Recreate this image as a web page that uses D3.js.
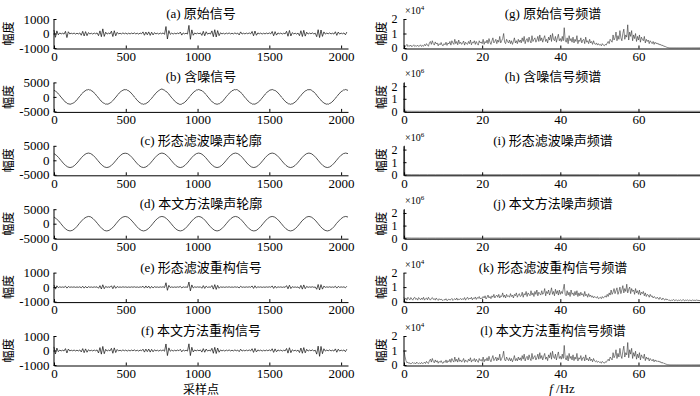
<!DOCTYPE html>
<html>
<head>
<meta charset="utf-8">
<script src="https://cdn.jsdelivr.net/npm/d3@7/dist/d3.min.js"></script>
<style>
  body { margin: 0; background: #fff; }
</style>
</head>
<body>
<svg id="chart" width="700" height="396"></svg>
<script>
// time signals (a), (e), (f): one value every 10 samples
const sigStep = 10;
const sigA = [
  240,-260,180,-90,40,-30,20,-40,150,-280,
  120,-30,20,-20,30,-40,20,-30,40,-120,
  150,-170,130,-150,60,-30,20,-40,30,-20,
  40,-150,180,-220,320,-200,90,-40,30,-30,
  160,-210,190,-160,80,-30,20,-30,40,-20,
  30,-40,20,-30,30,-20,40,-30,20,-40,
  30,-20,110,-120,100,-90,110,-130,90,-100,
  60,-30,20,-40,30,-20,40,-60,480,-380,
  200,-60,30,-40,20,-30,30,-20,100,-110,
  40,-30,20,-40,560,-400,250,-120,40,-30,
  30,-20,40,-130,150,-160,120,-50,30,-40,
  180,-220,260,-240,200,-150,50,-30,20,-40,
  30,-20,40,-30,20,-30,40,-20,30,-100,
  110,-40,20,-30,30,-20,40,-30,140,-160,
  170,-120,40,-20,30,-40,20,-30,30,-20,
  40,-30,140,-160,130,-110,40,-20,30,-40,
  20,-30,150,-190,210,-170,60,-30,20,-40,
  30,-150,190,-210,220,-180,90,-40,30,-20,
  40,-30,20,-220,260,-280,240,-200,110,-40,
  30,-20,40,-30,20,-40,120,-130,100,-40,
  30,-20,40,-90,100
];
const sigE = [
  150,-140,90,-40,20,-15,10,-20,60,-70,
  40,-15,10,-10,15,-20,10,-15,20,-50,
  60,-70,50,-60,30,-15,10,-20,15,-10,
  20,-80,100,-130,160,-110,50,-20,15,-15,
  90,-110,100,-80,40,-15,10,-15,20,-10,
  15,-20,10,-15,15,-10,20,-15,10,-20,
  15,-10,60,-70,80,-60,70,-80,50,-60,
  30,-15,10,-20,15,-10,20,-30,300,-220,
  120,-30,15,-20,10,-15,15,-10,50,-60,
  20,-15,10,-20,350,-260,150,-60,20,-15,
  15,-10,20,-80,100,-90,70,-25,15,-20,
  110,-140,170,-160,120,-80,25,-15,10,-20,
  15,-10,20,-15,10,-15,20,-10,15,-60,
  60,-20,10,-15,15,-10,20,-15,80,-90,
  90,-60,20,-10,15,-20,10,-15,15,-10,
  20,-15,80,-90,70,-60,20,-10,15,-20,
  10,-15,100,-120,130,-100,30,-15,10,-20,
  15,-90,120,-140,150,-110,50,-20,15,-10,
  20,-15,10,-150,180,-200,170,-140,70,-20,
  15,-10,20,-15,10,-20,60,-70,50,-20,
  15,-10,20,-50,60
];
const sigF = [
  250,-240,170,-80,30,-30,20,-30,130,-170,
  100,-30,20,-20,30,-30,20,-30,40,-100,
  130,-150,110,-120,50,-30,20,-30,30,-20,
  40,-170,200,-250,280,-220,80,-40,30,-30,
  150,-190,180,-140,70,-30,20,-30,40,-20,
  30,-40,20,-30,30,-20,40,-30,20,-40,
  30,-20,90,-110,100,-80,100,-110,80,-90,
  50,-30,20,-40,30,-20,40,-50,450,-350,
  180,-50,30,-40,20,-30,30,-20,80,-90,
  40,-30,20,-40,460,-350,220,-100,40,-30,
  30,-20,40,-110,130,-120,100,-40,30,-40,
  150,-190,220,-210,170,-120,40,-30,20,-40,
  30,-20,40,-30,20,-30,40,-20,30,-80,
  90,-40,20,-30,30,-20,40,-30,120,-130,
  140,-100,40,-20,30,-40,20,-30,30,-20,
  40,-30,120,-130,110,-90,40,-20,30,-40,
  20,-30,140,-180,190,-150,50,-30,20,-40,
  30,-140,170,-190,200,-160,80,-40,30,-20,
  40,-30,20,-250,300,-400,280,-220,120,-40,
  30,-20,40,-30,20,-40,110,-120,90,-40,
  30,-20,40,-80,90
];

// noisy signal (b): one value every 8 samples
const noisyStep = 8;
const sigB = [
  2200,2150,1700,1450,900,550,-80,-420,-1000,-1300,-1850,-2000,-2400,-2380,-2550,-2400,-2250,-2150,-1700,-1450,-900,-560,60,420,1020,1330,1830,2000,2380,2400,2560,2380,
  2360,2010,1830,1320,1010,420,70,-550,-900,-1450,-1700,-2150,-2250,-2520,-2440,-2530,-2250,-2140,-1700,-1330,-1020,-420,-60,550,900,1450,1700,2150,2250,2520,2450,2520,
  2250,2140,1700,1450,900,540,-60,-430,-1010,-1330,-1820,-2020,-2370,-2400,-2560,-2390,-2360,-2010,-1830,-1320,-900,-550,70,420,1010,1330,1830,2020,2450,2600,2750,2500,
  2380,2000,1830,1330,1010,430,-70,-540,-900,-1450,-1700,-2150,-2250,-2520,-2580,-2520,-2250,-2150,-1700,-1450,-900,-550,60,430,1010,1320,1830,2010,2370,2400,2560,2390,
  2250,2140,1710,1450,900,540,-60,-420,-1020,-1330,-1820,-2010,-2370,-2400,-2560,-2390,-2360,-2020,-1830,-1320,-1010,-430,70,540,900,1450,1700,2150,2250,2520,2440,2520,
  2370,2010,1830,1330,1010,430,-70,-550,-900,-1450,-1700,-2150,-2250,-2520,-2440,-2520,-2250,-2140,-1700,-1450,-900,-550,60,430,1010,1330,1830,2010,2370,2400,2560,2390,
  2250,2140,1710,1450,900,540,-60,-420,-1010,-1330,-1830,-2020,-2370,-2400,-2560,-2390,-2360,-2010,-1830,-1330,-1010,-430,70,540,900,1450,1700,2150,2250,2520,2450,2520,
  2370,2010,1830,1330,1010,430,-60,-540,-900,-1450,-1700,-2150,-2250,-2520,-2440,-2520,-2250,-2140,-1700,-1450,-900,-550,60,430,1010,1330,1830,2010,2370,2400,2560,2390,
  2250
];

// noise profiles (c), (d): one value every 16 samples
const waveStep = 16;
const sigC = [
  2300,1750,950,0,-950,-1750,-2300,-2500,-2300,-1750,-950,0,950,1750,2300,2500,
  2300,1750,950,0,-950,-1750,-2300,-2500,-2300,-1750,-950,0,950,1750,2300,2450,
  2300,1750,950,0,-950,-1750,-2300,-2500,-2300,-1750,-950,0,950,1750,2300,2500,
  2300,1750,950,0,-950,-1750,-2300,-2500,-2300,-1750,-950,0,950,1750,2300,2500,
  2300,1750,950,0,-950,-1750,-2300,-2500,-2300,-1750,-950,0,950,1750,2300,2500,
  2300,1750,950,0,-950,-1750,-2300,-2500,-2300,-1750,-950,0,950,1750,2300,2500,
  2300,1750,950,0,-950,-1750,-2300,-2500,-2300,-1750,-950,0,950,1750,2300,2500,
  2300,1750,950,0,-950,-1750,-2300,-2500,-2300,-1750,-950,0,950,1750,2300,2500,
  2300
];
const sigD = [
  2300,1700,1000,0,-950,-1800,-2300,-2500,-2300,-1750,-950,50,950,1750,2250,2500,
  2350,1750,950,0,-950,-1750,-2350,-2500,-2300,-1700,-1000,0,950,1800,2300,2500,
  2300,1750,900,0,-950,-1750,-2300,-2500,-2300,-1750,-950,0,1000,1750,2300,2500,
  2300,1750,950,0,-950,-1800,-2300,-2500,-2300,-1750,-950,0,950,1750,2300,2500,
  2300,1750,950,-50,-950,-1750,-2300,-2500,-2300,-1750,-950,0,950,1750,2300,2500,
  2300,1750,950,0,-950,-1750,-2300,-2500,-2350,-1750,-950,0,950,1750,2300,2500,
  2300,1750,950,0,-950,-1750,-2300,-2500,-2300,-1750,-950,0,1000,1700,2300,2500,
  2300,1750,950,0,-950,-1750,-2300,-2500,-2300,-1750,-950,100,950,1750,2300,2500,
  2300
];

// spectra (g), (k), (l) in units of 1e4, one value every 0.25 Hz from 0 to 76 Hz
const specStep = 0.25;
const specG = [
  0.2,0.1,0.15,0.25,0.1,0.18,0.12,0.2,0.08,0.15,0.22,0.1,0.16,0.12,0.2,0.1,0.14,0.22,0.1,0.18,
  0.12,0.25,0.15,0.3,0.2,0.12,0.35,0.45,0.25,0.5,0.3,0.2,0.42,0.28,0.35,0.15,0.3,0.22,0.38,0.2,
  0.15,0.3,0.22,0.4,0.18,0.35,0.28,0.45,0.2,0.5,0.35,0.25,0.6,0.3,0.45,0.22,0.55,0.3,0.4,0.25,
  0.35,0.48,0.2,0.4,0.3,0.25,0.45,0.3,0.55,0.22,0.4,0.35,0.5,0.25,0.45,0.3,0.2,0.5,0.35,0.42,
  0.3,0.6,0.25,0.45,0.35,0.55,0.3,0.65,0.4,0.25,0.5,0.7,0.35,0.45,0.6,0.3,0.55,0.4,0.8,0.35,
  0.5,0.65,1.0,0.4,0.3,0.6,0.45,0.35,0.55,0.3,0.5,0.25,0.45,0.7,0.35,0.5,0.3,0.6,0.4,0.55,
  0.35,0.7,0.45,0.8,0.3,0.55,0.65,0.4,0.75,0.5,0.35,0.85,0.45,0.6,0.7,0.4,0.55,0.8,0.45,0.9,
  0.5,0.7,0.4,0.65,0.85,0.45,0.6,0.35,0.75,0.55,0.9,0.45,1.0,0.6,0.5,0.8,0.4,0.7,0.95,0.5,
  0.65,0.45,0.8,0.5,1.4,0.55,0.4,0.7,0.3,0.85,0.5,0.65,0.4,0.75,0.35,0.6,0.45,0.85,0.3,0.55,
  0.45,0.7,0.35,0.55,0.6,0.3,0.75,0.4,0.5,0.3,0.6,0.35,0.45,0.25,0.5,0.3,0.25,0.35,0.2,0.3,
  0.2,0.25,0.15,0.3,0.2,0.15,0.25,0.2,0.35,0.45,0.3,0.6,0.5,0.4,0.9,0.55,0.7,1.1,0.5,0.85,
  0.6,1.2,0.7,0.5,1.0,1.3,0.6,0.9,0.75,1.6,0.55,1.1,0.8,1.2,0.5,0.9,0.65,1.0,0.45,0.8,
  0.55,0.9,0.4,0.75,0.6,0.5,0.8,0.35,0.6,0.45,0.55,0.3,0.5,0.4,0.3,0.45,0.25,0.4,0.3,0.35,
  0.25,0.3,0.2,0.25,0.15,0.2,0.1,0.12,0.08,0.05,0.03,0.02,
  0.01,0.01,0.01,0.01,0.01,0.01,0.01,0.01,0.01,0.01,0.01,
  0.01,0.01,0.01,0.01,0.01,0.01,0.01,0.01,0.01,0.01,0.01,
  0.01,0.01,0.01,0.01,0.01,0.01,0.01,0.01,0.01,0.01,0.01
];
const specK = [
  0.3,0.15,0.25,0.1,0.3,0.2,0.12,0.28,0.18,0.1,0.25,0.3,0.15,0.22,0.1,0.28,0.2,0.12,0.25,0.15,
  0.3,0.1,0.2,0.25,0.12,0.3,0.18,0.1,0.22,0.28,0.15,0.2,0.1,0.25,0.15,0.08,0.2,0.12,0.18,0.1,
  0.08,0.15,0.1,0.2,0.06,0.12,0.18,0.1,0.15,0.22,0.08,0.15,0.2,0.12,0.25,0.1,0.18,0.15,0.22,0.12,
  0.2,0.15,0.28,0.1,0.22,0.3,0.15,0.25,0.18,0.3,0.12,0.25,0.2,0.32,0.15,0.28,0.22,0.35,0.18,0.25,
  0.2,0.35,0.25,0.4,0.18,0.3,0.45,0.25,0.35,0.2,0.4,0.3,0.5,0.25,0.38,0.45,0.3,0.5,0.25,0.4,
  0.35,0.6,0.3,0.45,0.25,0.5,0.35,0.4,0.3,0.55,0.35,0.45,0.25,0.5,0.4,0.6,0.3,0.45,0.55,0.35,
  0.4,0.65,0.3,0.55,0.45,0.7,0.35,0.6,0.5,0.4,0.75,0.45,0.6,0.35,0.7,0.5,0.8,0.4,0.65,0.55,
  0.45,0.75,0.5,0.6,0.9,0.4,0.7,0.55,0.8,0.45,0.65,0.95,0.5,0.7,0.4,0.85,0.55,0.75,0.45,0.8,
  0.5,0.7,0.55,0.85,1.2,0.5,0.4,0.75,0.45,0.65,0.35,0.8,0.5,0.6,0.4,0.7,0.45,0.75,0.35,0.6,
  0.4,0.65,0.45,0.55,0.35,0.7,0.4,0.5,0.3,0.55,0.35,0.45,0.3,0.4,0.25,0.35,0.3,0.25,0.35,0.2,
  0.25,0.3,0.2,0.35,0.25,0.3,0.4,0.3,0.5,0.35,0.6,0.45,0.8,0.5,0.65,0.9,0.55,0.75,0.95,0.5,
  0.7,1.0,0.55,0.8,1.1,0.6,0.9,0.7,1.2,0.6,0.85,1.0,0.55,0.9,0.7,0.8,0.5,0.9,0.6,0.75,
  0.5,0.8,0.45,0.65,0.55,0.7,0.4,0.6,0.35,0.5,0.45,0.3,0.5,0.35,0.4,0.25,0.35,0.3,0.2,0.3,
  0.25,0.15,0.3,0.2,0.12,0.25,0.15,0.1,0.2,0.12,0.15,0.08,
  0.1,0.05,0.12,0.08,0.15,0.06,0.1,0.12,0.05,0.1,0.08,
  0.12,0.06,0.1,0.14,0.05,0.1,0.08,0.12,0.06,0.1,0.09,
  0.05,0.12,0.08,0.1,0.06,0.12,0.08,0.1,0.05,0.1,0.08
];
const specL = [
  1.0,0.6,0.3,0.15,0.2,0.1,0.15,0.08,0.12,0.18,0.1,0.15,0.08,0.2,0.12,0.1,0.15,0.08,0.18,0.1,
  0.12,0.2,0.1,0.25,0.15,0.1,0.3,0.4,0.2,0.45,0.25,0.15,0.35,0.2,0.3,0.12,0.25,0.18,0.3,0.15,
  0.12,0.25,0.18,0.35,0.15,0.3,0.22,0.4,0.18,0.45,0.3,0.2,0.55,0.25,0.4,0.2,0.5,0.25,0.35,0.2,
  0.3,0.45,0.18,0.35,0.25,0.2,0.4,0.28,0.5,0.2,0.35,0.3,0.45,0.22,0.4,0.28,0.18,0.45,0.3,0.38,
  0.25,0.55,0.22,0.4,0.3,0.5,0.28,0.6,0.35,0.22,0.45,0.65,0.3,0.4,0.55,0.28,0.5,0.35,0.75,0.3,
  0.45,0.6,0.95,0.35,0.28,0.55,0.4,0.3,0.5,0.28,0.45,0.22,0.4,0.65,0.3,0.45,0.28,0.55,0.35,0.5,
  0.3,0.65,0.4,0.75,0.28,0.5,0.6,0.35,0.7,0.45,0.3,0.8,0.4,0.55,0.65,0.35,0.5,0.75,0.4,0.85,
  0.45,0.65,0.35,0.6,0.8,0.4,0.55,0.3,0.7,0.5,0.85,0.4,0.95,0.55,0.45,0.75,0.35,0.65,0.9,0.45,
  0.6,0.4,0.75,0.45,1.35,0.5,0.35,0.65,0.28,0.8,0.45,0.6,0.35,0.7,0.3,0.55,0.4,0.8,0.28,0.5,
  0.4,0.65,0.3,0.5,0.55,0.28,0.7,0.35,0.45,0.28,0.55,0.3,0.4,0.22,0.45,0.28,0.22,0.3,0.18,0.25,
  0.18,0.22,0.12,0.25,0.18,0.12,0.22,0.18,0.3,0.4,0.28,0.55,0.45,0.35,0.85,0.5,0.65,1.05,0.45,0.8,
  0.55,1.15,0.65,0.45,0.95,1.3,0.55,0.85,0.7,1.55,0.5,1.05,0.75,1.15,0.45,0.85,0.6,0.95,0.4,0.75,
  0.5,0.85,0.35,0.7,0.55,0.45,0.75,0.3,0.55,0.4,0.5,0.28,0.45,0.35,0.28,0.4,0.22,0.35,0.25,0.3,
  0.22,0.28,0.18,0.22,0.12,0.18,0.1,0.1,0.06,0.04,0.02,0.02,
  0.01,0.01,0.01,0.01,0.01,0.01,0.01,0.01,0.01,0.01,0.01,
  0.01,0.01,0.01,0.01,0.01,0.01,0.01,0.01,0.01,0.01,0.01,
  0.01,0.01,0.01,0.01,0.01,0.01,0.01,0.01,0.01,0.01,0.01
];

// noise spectra (h), (i), (j) in units of 1e6, at the listed frequencies
const noiseFreq = [0, 0.05, 0.1, 0.2, 0.5, 1, 2, 4, 6, 8, 10, 15, 20, 25, 30, 35, 40, 45, 50, 55, 60, 65, 70, 76];
const specH = [0.02, 0.5, 2.3, 0.05, 0.02, 0.015, 0.01, 0.01, 0.01, 0.01, 0.01, 0.01, 0.01, 0.01, 0.01, 0.01, 0.01, 0.01, 0.01, 0.01, 0.01, 0.01, 0.01, 0.01];
const specI = [0.02, 0.5, 2.3, 0.05, 0.02, 0.015, 0.01, 0.01, 0.01, 0.01, 0.01, 0.01, 0.01, 0.01, 0.01, 0.01, 0.01, 0.01, 0.01, 0.01, 0.01, 0.01, 0.01, 0.01];
const specJ = [0.02, 0.5, 2.3, 0.05, 0.02, 0.015, 0.01, 0.01, 0.01, 0.01, 0.01, 0.01, 0.01, 0.01, 0.01, 0.01, 0.01, 0.01, 0.01, 0.01, 0.01, 0.01, 0.01, 0.01];

const leftTitles = ["(a) 原始信号", "(b) 含噪信号", "(c) 形态滤波噪声轮廓", "(d) 本文方法噪声轮廓", "(e) 形态滤波重构信号", "(f) 本文方法重构信号"];
const rightTitles = ["(g) 原始信号频谱", "(h) 含噪信号频谱", "(i) 形态滤波噪声频谱", "(j) 本文方法噪声频谱", "(k) 形态滤波重构信号频谱", "(l) 本文方法重构信号频谱"];
const timeTicks = [0, 500, 1000, 1500, 2000];
const freqTicks = [0, 20, 40, 60];
const ampTicks = [0, 1, 2];

const svg = d3.select("#chart");
const serif = "'Liberation Serif', 'Times New Roman', 'Noto Sans CJK SC', serif";
const cjk = "'Noto Sans CJK SC', sans-serif";

const rowTop = [19, 82.4, 145.8, 209.2, 272.6, 336];
const H = 29;

function styleAxis(g) {
    g.attr("font-family", serif).attr("font-size", 13);
    g.selectAll(".domain").attr("stroke", "#000").attr("stroke-width", 1);
    g.selectAll(".tick line").attr("stroke", "#000");
    g.selectAll(".tick text").attr("fill", "#000");
}

function yLabel(x, yc) {
    svg.append("text")
        .attr("transform", "translate(" + x + "," + yc + ") rotate(-90)")
        .attr("text-anchor", "middle")
        .attr("dy", "0.35em")
        .attr("font-family", cjk)
        .attr("font-size", 12)
        .text("幅度");
}

function title(x, y, txt) {
    svg.append("text")
        .attr("x", x).attr("y", y)
        .attr("text-anchor", "middle")
        .attr("font-family", serif)
        .attr("font-size", 13)
        .text(txt);
}

function leftPanel(row, txt, vals, step, lim) {

    const top = rowTop[row], bot = top + H;
    const x = d3.scaleLinear().domain([0, 2048]).range([54, 348]);
    const y = d3.scaleLinear().domain([-lim, lim]).range([bot, top]);

    const line = d3.line()
        .x((d, i) => x(i * step))
        .y(d => y(d));

    svg.append("path")
        .datum(vals)
        .attr("d", line)
        .attr("fill", "none")
        .attr("stroke", "#1a1a1a")
        .attr("stroke-width", 0.75);

    svg.append("g")
        .attr("transform", "translate(53.5,0)")
        .call(d3.axisLeft(y).tickValues([-lim, 0, lim]).tickFormat(d => String(d))
            .tickSizeInner(-3).tickSizeOuter(0).tickPadding(4))
        .call(styleAxis);

    svg.append("g")
        .attr("transform", "translate(0," + (bot + 0.5) + ")")
        .call(d3.axisBottom(x).tickValues(timeTicks).tickFormat(d => String(d))
            .tickSizeInner(-3).tickSizeOuter(0).tickPadding(3))
        .call(styleAxis);

    title(201, top - 1, txt);
    yLabel(9, top + H / 2);
}

function rightPanel(row, txt, freqs, vals, lim, expo) {

    const top = rowTop[row], bot = top + H;
    const x = d3.scaleLinear().domain([0, 76]).range([404, 701]);
    const y = d3.scaleLinear().domain([0, lim]).range([bot, top]);

    const line = d3.line()
        .x((d, i) => x(freqs[i]))
        .y(d => y(d));

    svg.append("path")
        .datum(vals)
        .attr("d", line)
        .attr("fill", "none")
        .attr("stroke", "#333")
        .attr("stroke-width", 0.6);

    svg.append("g")
        .attr("transform", "translate(403.5,0)")
        .call(d3.axisLeft(y).tickValues(ampTicks).tickFormat(d => String(d))
            .tickSizeInner(-3).tickSizeOuter(0).tickPadding(6))
        .call(styleAxis)
        .attr("font-size", 12);

    svg.append("g")
        .attr("transform", "translate(0," + (bot + 0.5) + ")")
        .call(d3.axisBottom(x).tickValues(freqTicks).tickFormat(d => String(d))
            .tickSizeInner(-3).tickSizeOuter(0).tickPadding(3))
        .call(styleAxis);

    const ex = svg.append("text")
        .attr("x", 405).attr("y", top - 5)
        .attr("font-family", serif)
        .attr("font-size", 10)
        .text("×10");
    ex.append("tspan")
        .attr("dy", -4)
        .attr("font-size", 7)
        .text(expo);

    title(553, top - 1, txt);
    yLabel(382, top + H / 2);
}

const specFreq = specG.map((d, i) => i * specStep);

leftPanel(0, leftTitles[0], sigA, sigStep, 1000);
leftPanel(1, leftTitles[1], sigB, noisyStep, 5000);
leftPanel(2, leftTitles[2], sigC, waveStep, 5000);
leftPanel(3, leftTitles[3], sigD, waveStep, 5000);
leftPanel(4, leftTitles[4], sigE, sigStep, 1000);
leftPanel(5, leftTitles[5], sigF, sigStep, 1000);

rightPanel(0, rightTitles[0], specFreq, specG, 2, "4");
rightPanel(1, rightTitles[1], noiseFreq, specH, 2.3, "6");
rightPanel(2, rightTitles[2], noiseFreq, specI, 2.3, "6");
rightPanel(3, rightTitles[3], noiseFreq, specJ, 2.3, "6");
rightPanel(4, rightTitles[4], specFreq, specK, 2, "4");
rightPanel(5, rightTitles[5], specFreq, specL, 2, "4");

// axis captions
svg.append("text")
    .attr("x", 201).attr("y", 394)
    .attr("text-anchor", "middle")
    .attr("font-family", cjk)
    .attr("font-size", 12)
    .text("采样点");

const fx = svg.append("text")
    .attr("x", 562).attr("y", 393)
    .attr("text-anchor", "middle")
    .attr("font-family", serif)
    .attr("font-size", 13);
fx.append("tspan").attr("font-style", "italic").text("f");
fx.append("tspan").text(" /Hz");
</script>
</body>
</html>
